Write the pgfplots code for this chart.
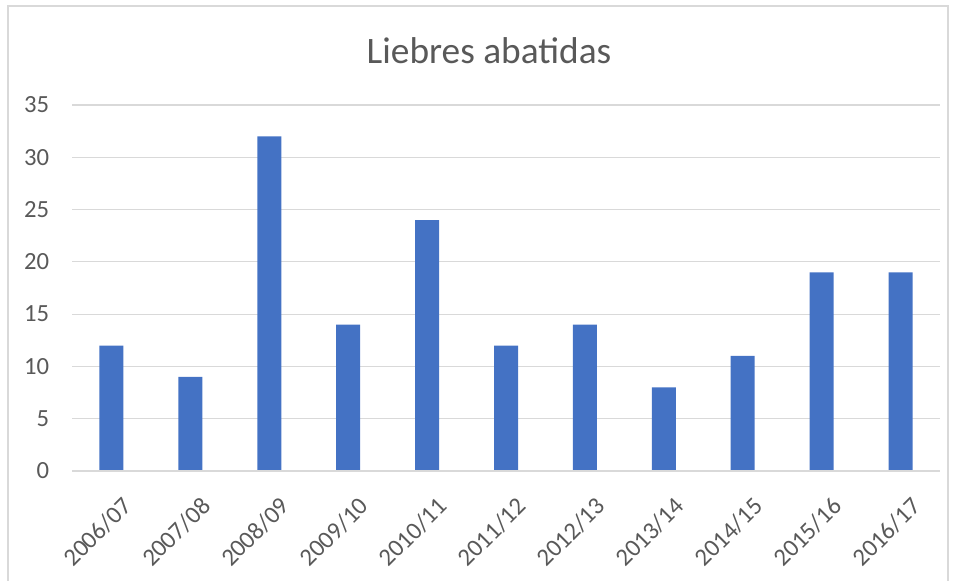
\documentclass[border=0pt]{standalone}
\usepackage{pgfplots}
\pgfplotsset{compat=1.18}
\usepackage{fontspec}
\setmainfont{Carlito}
\definecolor{barblue}{HTML}{4472C4}
\definecolor{txtgray}{HTML}{595959}
\definecolor{gridgray}{HTML}{D9D9D9}
\begin{document}
\begin{tikzpicture}
\useasboundingbox (0,0) rectangle (717.75pt,435.75pt);
\draw[gridgray, line width=1pt] (6pt,-20pt) -- (6pt,431.25pt) -- (711pt,431.25pt) -- (711pt,-20pt);
\node[text=txtgray, font=\fontsize{28}{33}\selectfont] at (366.75pt,398pt) {Liebres abatidas};
\begin{axis}[
  at={(54pt,82.5pt)}, anchor=south west,
  scale only axis, width=651pt, height=274.5pt,
  xmin=-0.5, xmax=10.5, ymin=0, ymax=35,
  ytick={0,5,...,35},
  xtick={0,...,10},
  xticklabels={2006/07,2007/08,2008/09,2009/10,2010/11,2011/12,2012/13,2013/14,2014/15,2015/16,2016/17},
  axis line style={draw=none},
  ymajorgrids, grid style={gridgray, line width=0.9pt},
  major tick length=0pt,
  tick label style={text=txtgray, font=\fontsize{18.5}{21}\selectfont},
  /pgf/number format/assume math mode=true,
  yticklabel style={anchor=east, inner sep=0pt, xshift=-17pt},
  xticklabel style={anchor=north east, rotate=45, inner sep=0pt, xshift=-8pt, yshift=-18pt},
  clip=false,
]
\addplot[ybar, bar width=18pt, fill=barblue, draw=none] coordinates {
(0,12) (1,9) (2,32) (3,14) (4,24) (5,12) (6,14) (7,8) (8,11) (9,19) (10,19)};
\draw[gridgray, line width=0.9pt] (axis cs:-0.5,0) -- (axis cs:10.5,0);
\end{axis}
\end{tikzpicture}
\end{document}
